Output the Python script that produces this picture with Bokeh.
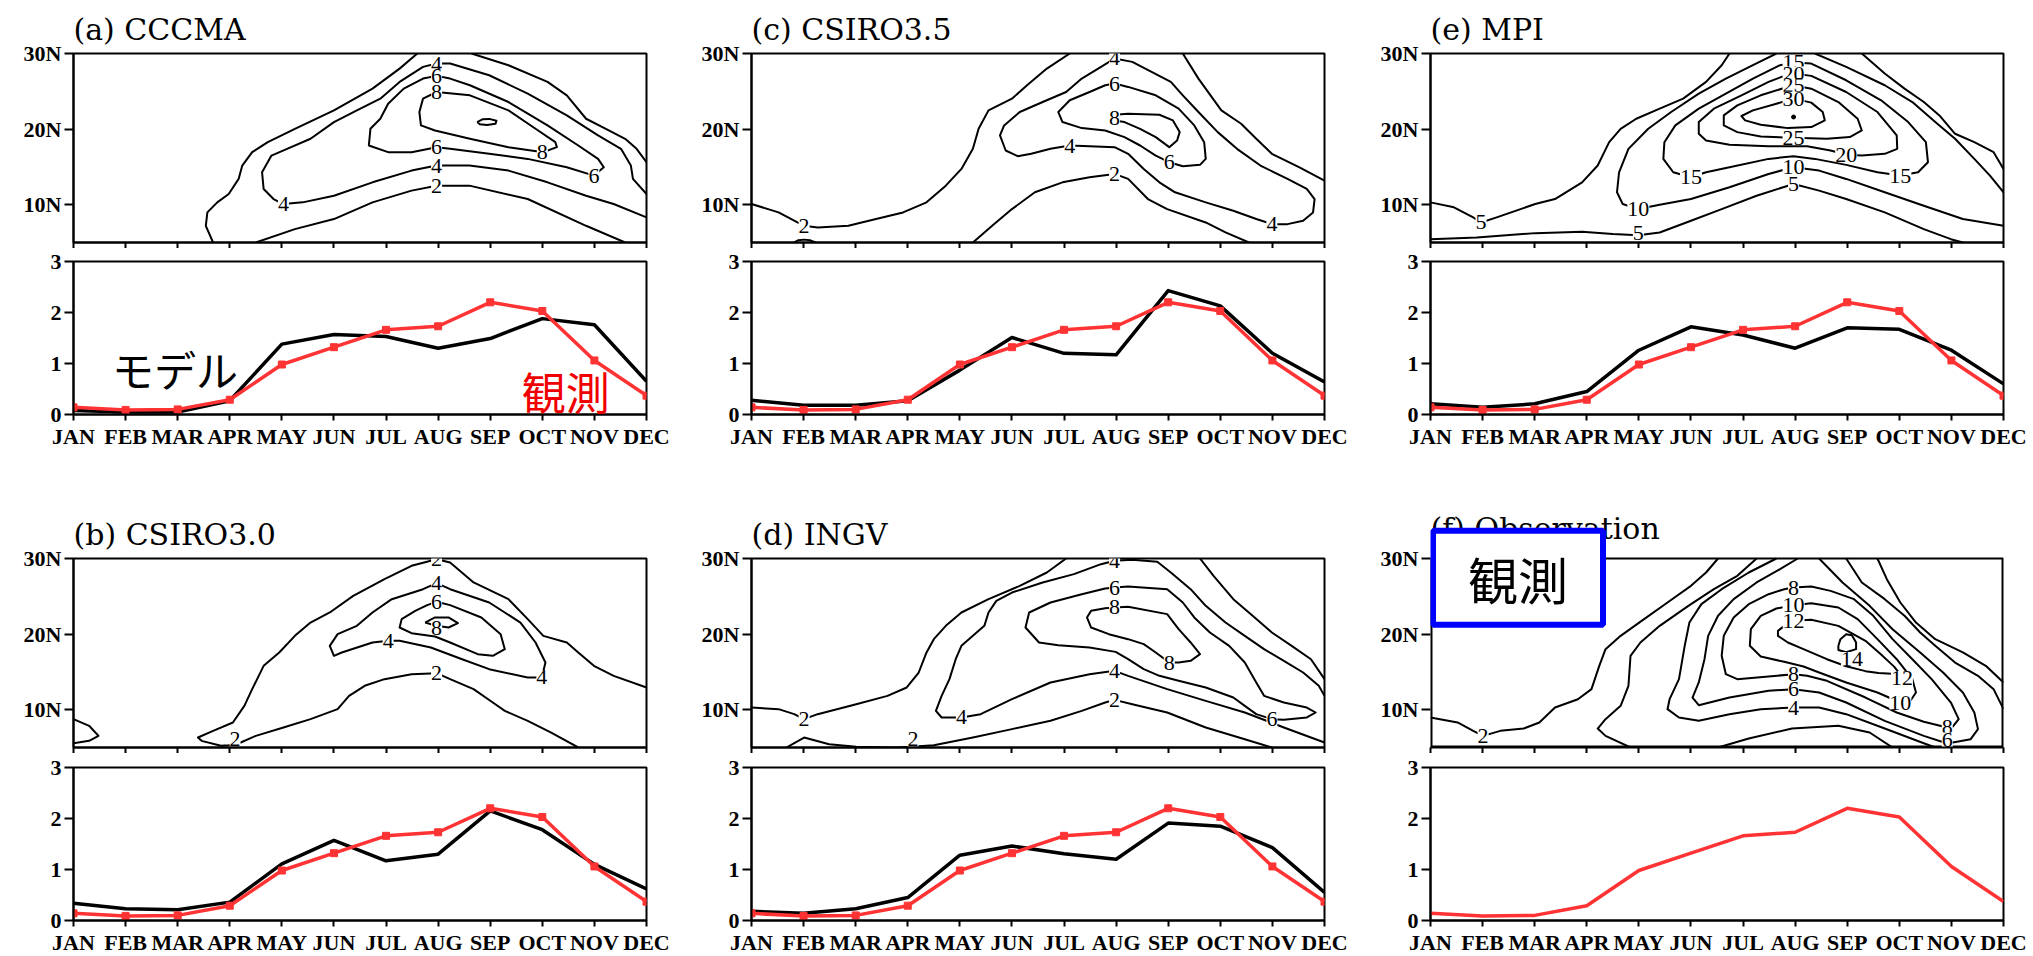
from bokeh.plotting import figure
from bokeh.layouts import row, column
from bokeh.models import FixedTicker, ColumnDataSource, LabelSet, Label
from bokeh.embed import file_html
from bokeh.resources import INLINE

# ---------------- data ----------------
MONTHS = list(range(1, 13))
MONTH_LABELS = ["JAN", "FEB", "MAR", "APR", "MAY", "JUN", "JUL", "AUG", "SEP", "OCT", "NOV", "DEC"]
LAT_MIN, LAT_MAX = 5, 30
LAT_TICKS = [10, 20, 30]
LAT_LABELS = ["10N", "20N", "30N"]
FREQ_TICKS = [0, 1, 2, 3]

OBS = [0.14, 0.09, 0.10, 0.29, 0.98, 1.32, 1.66, 1.73, 2.20, 2.03, 1.06, 0.37]
CCCMA = [0.08, 0.05, 0.05, 0.27, 1.38, 1.57, 1.53, 1.30, 1.49, 1.88, 1.76, 0.65]
CSIRO35 = [0.28, 0.18, 0.18, 0.27, 0.87, 1.51, 1.20, 1.17, 2.43, 2.13, 1.20, 0.64]
MPI = [0.21, 0.14, 0.21, 0.45, 1.26, 1.72, 1.56, 1.30, 1.70, 1.67, 1.26, 0.60]
CSIRO30 = [0.34, 0.23, 0.21, 0.36, 1.11, 1.57, 1.17, 1.30, 2.15, 1.78, 1.10, 0.62]
INGV = [0.18, 0.14, 0.23, 0.45, 1.28, 1.46, 1.31, 1.20, 1.91, 1.85, 1.43, 0.55]

# contour isolines (month, latitude)
# (a) CCCMA
A_2_OUTER_L = [(3.68, 5.0), (3.54, 7.21), (3.57, 8.98), (3.76, 10.31), (3.98, 11.42), (4.17, 13.41), (4.24, 15.18), (4.43, 16.95), (4.73, 18.27), (5.25, 20.04), (6.0, 22.48), (6.74, 25.35), (7.26, 28.0), (7.6, 30.0)]
A_2_OUTER_R = [(8.64, 30.0), (9.35, 28.45), (10.1, 26.24), (10.47, 24.47), (10.84, 21.37), (11.22, 20.04), (11.59, 18.72), (11.81, 17.39), (12.0, 15.62)]
A_2_LOW = [(4.5, 5.0), (5.25, 6.77), (6.0, 8.1), (6.74, 10.31), (7.49, 11.86), (7.97, 12.52), (8.6, 12.52), (9.72, 10.75), (10.84, 7.21), (11.59, 5.0)]
A_4 = [(12.0, 11.42), (11.74, 13.41), (11.70, 15.18), (11.51, 17.39), (11.07, 19.16), (10.47, 21.81), (9.72, 24.69), (8.98, 27.12), (8.23, 28.67), (7.97, 28.67), (7.71, 28.23), (7.26, 26.24), (6.89, 24.03), (6.44, 22.48), (6.0, 20.93), (5.55, 18.72), (5.10, 17.39), (4.80, 16.5), (4.62, 14.29), (4.65, 12.08), (4.84, 10.75), (5.03, 10.09), (5.40, 10.31), (6.0, 11.19), (6.74, 12.96), (7.49, 14.51), (7.97, 15.18), (8.60, 15.18), (9.35, 14.51), (10.1, 12.96), (10.84, 11.19), (11.37, 10.09), (12.0, 8.32)]
A_6 = [(7.97, 17.61), (8.23, 17.39), (8.98, 16.73), (9.72, 16.06), (10.47, 14.96), (10.99, 13.85), (11.18, 14.96), (11.07, 16.06), (10.69, 17.83), (10.1, 20.49), (9.35, 23.58), (8.61, 25.8), (8.23, 26.68), (7.97, 27.04), (7.71, 26.68), (7.34, 25.35), (7.04, 23.36), (6.89, 21.37), (6.70, 20.04), (6.67, 17.83), (7.04, 16.95), (7.49, 16.95), (7.97, 17.61)]
A_8 = [(7.97, 24.91), (8.61, 24.47), (9.35, 22.48), (9.87, 20.04), (10.25, 18.27), (10.28, 17.61), (10.02, 16.95), (9.35, 17.61), (8.61, 18.72), (7.94, 19.82), (7.67, 20.49), (7.64, 22.26), (7.71, 24.03), (7.97, 24.91)]
A_10 = [(8.75, 20.93), (8.85, 21.3), (8.98, 21.35), (9.12, 21.1), (9.1, 20.7), (8.94, 20.55), (8.8, 20.65), (8.75, 20.93)]
A_LABELS = [("4", 7.97, 28.67), ("6", 7.97, 27.04), ("8", 7.97, 24.91), ("6", 7.97, 17.61), ("4", 7.97, 15.18), ("2", 7.97, 12.52), ("8", 10.0, 16.95), ("6", 10.99, 13.85), ("4", 5.03, 10.09)]

# (c) CSIRO3.5
C_2_OUTER_L = [(1.00, 10.09), (1.52, 8.98), (1.82, 7.88), (2.01, 7.21), (2.27, 6.99), (2.86, 7.21), (3.39, 8.10), (3.91, 8.98), (4.36, 10.31), (4.73, 12.52), (5.03, 14.73), (5.25, 17.39), (5.36, 20.04), (5.55, 22.48), (6.00, 24.03), (6.29, 25.80), (6.67, 28.01), (7.11, 30.0)]
C_2_OUTER_R = [(9.28, 30.0), (9.58, 26.68), (10.02, 22.48), (10.40, 20.71), (10.69, 18.72), (10.99, 16.73), (11.51, 14.96), (12.0, 13.19)]
C_2_LOW = [(5.25, 5.0), (5.62, 7.21), (6.0, 9.42), (6.44, 11.64), (6.97, 12.96), (7.49, 13.63), (7.97, 14.07), (8.23, 13.41), (8.61, 10.75), (8.98, 9.42), (9.72, 7.65), (10.10, 6.33), (10.55, 5.0)]
C_2_BUMP = [(1.82, 5.0), (1.9, 5.3), (2.01, 5.38), (2.12, 5.3), (2.23, 5.0)]
C_4 = [(7.97, 29.34), (8.31, 28.89), (8.68, 27.57), (9.05, 26.24), (9.28, 24.47), (9.58, 22.26), (9.95, 19.60), (10.32, 17.39), (10.77, 15.18), (11.29, 13.41), (11.66, 12.08), (11.81, 10.75), (11.78, 8.98), (11.59, 7.88), (11.29, 7.43), (10.99, 7.43), (10.69, 8.10), (10.25, 9.20), (9.72, 10.31), (9.13, 11.64), (8.83, 12.96), (8.53, 14.73), (8.23, 16.73), (7.97, 17.61), (7.49, 17.74), (7.11, 17.83), (6.74, 17.39), (6.37, 16.73), (6.11, 16.42), (5.88, 17.17), (5.77, 19.16), (5.85, 20.49), (6.15, 22.26), (6.59, 23.58), (7.04, 24.91), (7.34, 26.68), (7.71, 28.23), (7.97, 29.34)]
C_6 = [(7.97, 26.02), (8.23, 25.58), (8.76, 24.47), (9.20, 22.70), (9.50, 20.49), (9.69, 18.27), (9.72, 16.06), (9.61, 15.27), (9.28, 15.09), (9.02, 15.62), (8.76, 16.50), (8.46, 17.83), (8.16, 18.94), (7.79, 19.82), (7.34, 20.13), (6.97, 20.93), (6.89, 22.26), (7.11, 23.81), (7.49, 24.91), (7.79, 25.80), (7.97, 26.02)]
C_8 = [(7.97, 21.90), (8.23, 22.04), (8.83, 21.90), (9.09, 21.15), (9.22, 19.60), (9.17, 18.50), (9.02, 17.61), (8.76, 18.94), (8.46, 20.04), (8.16, 20.93), (7.97, 21.15), (7.97, 21.90)]
C_LABELS = [("2", 2.01, 7.21), ("4", 7.97, 29.34), ("6", 7.97, 26.02), ("8", 7.97, 21.5), ("4", 7.11, 17.83), ("6", 9.02, 15.62), ("2", 7.97, 14.07), ("4", 10.99, 7.43)]

# (e) MPI
E_5_OUTER_L = [(1.00, 10.31), (1.45, 9.65), (1.82, 8.32), (1.97, 7.65), (2.27, 8.32), (3.01, 10.09), (3.39, 10.75), (3.91, 12.96), (4.21, 15.18), (4.43, 18.27), (4.65, 20.04), (4.95, 21.37), (5.40, 22.70), (5.85, 24.03), (6.29, 26.24), (6.59, 28.45), (6.74, 30.0)]
E_5_OUTER_R = [(9.28, 30.0), (9.72, 27.35), (10.10, 25.35), (10.47, 23.58), (10.77, 21.81), (11.07, 19.38), (11.44, 18.27), (11.81, 16.95), (12.0, 14.73)]
E_5_LOW = [(1.00, 5.44), (1.89, 5.66), (3.01, 6.24), (3.91, 6.42), (4.50, 6.11), (4.99, 5.96), (5.40, 6.33), (6.00, 7.88), (6.59, 9.42), (7.26, 11.19), (7.97, 12.74), (8.46, 11.86), (8.98, 10.75), (9.72, 8.98), (10.47, 6.77), (10.99, 5.44), (11.22, 5.0)]
E_10_MAIN = [(7.64, 30.0), (7.19, 28.45), (6.67, 26.68), (6.15, 24.69), (5.62, 22.26), (5.18, 20.04), (4.80, 17.39), (4.62, 14.29), (4.58, 11.64), (4.69, 10.09), (4.99, 9.42), (5.40, 10.0), (6.00, 10.75), (6.74, 12.30), (7.49, 14.07), (7.97, 14.96), (8.46, 14.51), (8.98, 13.41), (9.72, 11.64), (10.47, 9.87), (11.22, 8.10), (12.0, 7.21)]
E_10_R = [(8.38, 30.0), (8.98, 28.23), (9.72, 25.80), (10.25, 23.58), (10.69, 20.93), (11.07, 18.72), (11.44, 16.06), (11.74, 13.85), (12.0, 11.64)]
E_15 = [(7.97, 28.81), (8.31, 28.67), (8.98, 26.46), (9.65, 23.81), (10.17, 20.93), (10.51, 18.27), (10.55, 15.62), (10.36, 14.29), (10.02, 13.85), (9.58, 14.29), (8.98, 15.27), (8.38, 16.06), (7.97, 16.42), (7.49, 16.06), (6.74, 14.96), (6.29, 14.29), (6.00, 13.63), (5.66, 14.29), (5.47, 16.06), (5.49, 18.27), (5.70, 20.49), (6.15, 22.70), (6.67, 24.69), (7.19, 26.68), (7.71, 28.45), (7.97, 28.81)]
E_20 = [(7.97, 27.35), (8.31, 27.04), (8.98, 24.91), (9.58, 22.26), (9.95, 19.16), (9.96, 17.39), (9.72, 16.73), (9.28, 16.50), (8.98, 16.60), (8.68, 17.17), (8.23, 17.74), (7.49, 17.74), (6.74, 17.92), (6.29, 18.50), (6.15, 19.38), (6.15, 20.93), (6.44, 22.70), (6.97, 24.47), (7.49, 26.24), (7.79, 27.04), (7.97, 27.35)]
E_25 = [(7.97, 25.80), (8.31, 25.35), (8.83, 23.58), (9.20, 21.37), (9.28, 19.82), (9.05, 18.94), (8.61, 18.72), (7.97, 18.85), (7.34, 19.03), (6.89, 19.60), (6.63, 20.49), (6.63, 21.81), (6.89, 23.14), (7.34, 24.47), (7.79, 25.44), (7.97, 25.80)]
E_30 = [(7.97, 24.03), (8.31, 23.50), (8.53, 22.26), (8.57, 21.15), (8.31, 20.27), (7.86, 20.13), (7.34, 20.58), (7.04, 21.15), (6.97, 21.73), (7.19, 22.48), (7.64, 23.36), (7.97, 24.03)]
E_35_DOT = [(7.97, 21.6)]
E_LABELS = [("15", 7.97, 28.81), ("20", 7.97, 27.35), ("25", 7.97, 25.80), ("30", 7.97, 24.03), ("5", 1.97, 7.65), ("10", 4.99, 9.42), ("5", 4.99, 6.3), ("15", 6.00, 13.63), ("10", 7.97, 14.96), ("5", 7.97, 12.74), ("25", 7.97, 18.85), ("20", 8.98, 16.60), ("15", 10.02, 13.85)]

# (b) CSIRO3.0
B_2_MAIN = [(12.0, 12.94), (11.37, 14.48), (10.99, 15.80), (10.69, 17.57), (10.47, 18.89), (10.02, 19.77), (9.72, 21.98), (9.35, 24.62), (8.68, 26.83), (8.23, 29.47), (7.97, 29.91), (7.49, 29.03), (6.97, 27.27), (6.37, 25.06), (5.92, 22.86), (5.55, 21.53), (5.25, 19.77), (4.95, 17.57), (4.65, 15.80), (4.43, 12.72), (4.28, 10.51), (4.06, 8.31), (3.68, 7.20), (3.39, 6.32), (3.46, 5.88), (3.83, 5.22), (3.98, 5.31), (4.21, 5.66), (4.50, 6.54), (5.03, 7.65), (5.55, 8.75), (6.07, 10.07), (6.29, 11.83), (6.59, 13.16), (6.97, 14.04), (7.49, 14.70), (7.97, 14.83), (8.23, 14.04), (8.68, 12.72), (9.05, 10.95), (9.28, 9.85), (9.72, 8.53), (10.17, 6.98), (10.69, 5.0)]
B_2_LEFT = [(1.0, 8.75), (1.30, 7.87), (1.48, 6.54), (1.30, 5.88), (1.0, 5.57)]
B_4 = [(7.97, 26.74), (8.23, 25.94), (8.98, 24.18), (9.58, 21.53), (9.87, 18.89), (10.06, 16.24), (9.99, 14.26), (9.72, 14.26), (8.98, 15.36), (8.46, 16.68), (7.86, 18.23), (7.26, 19.11), (7.04, 19.11), (6.74, 18.89), (6.15, 17.57), (6.00, 17.13), (5.92, 18.45), (6.07, 19.99), (6.44, 21.09), (6.74, 22.86), (7.11, 24.62), (7.71, 25.94), (7.97, 26.74)]
B_6 = [(7.97, 24.27), (8.23, 23.83), (8.83, 22.20), (9.20, 19.99), (9.28, 18.01), (9.05, 17.13), (8.76, 17.35), (8.23, 18.89), (7.94, 19.68), (7.49, 20.12), (7.26, 20.87), (7.30, 21.98), (7.56, 23.08), (7.79, 23.83), (7.97, 24.27)]
B_8 = [(7.75, 21.53), (7.94, 22.20), (8.20, 22.20), (8.38, 21.45), (8.20, 20.87), (7.97, 21.09), (7.75, 21.53)]
B_LABELS = [("2", 7.97, 29.91), ("4", 7.97, 26.74), ("6", 7.97, 24.27), ("8", 7.97, 20.87), ("4", 7.04, 19.11), ("2", 7.97, 14.83), ("4", 9.99, 14.26), ("2", 4.1, 6.15)]

# (d) INGV
D_2_OUTER_L = [(1.00, 10.29), (1.52, 10.07), (1.82, 9.41), (2.01, 8.75), (2.27, 9.41), (3.01, 10.73), (3.61, 11.83), (3.98, 12.94), (4.21, 14.92), (4.36, 17.57), (4.50, 19.33), (4.73, 21.09), (5.03, 22.86), (5.55, 24.62), (6.15, 26.38), (6.67, 28.15), (7.04, 30.0)]
D_2_OUTER_R = [(9.61, 30.0), (9.87, 27.71), (10.25, 24.62), (10.62, 22.42), (10.99, 20.21), (11.37, 18.45), (11.74, 16.68), (12.0, 14.04)]
D_2_LOW = [(1.67, 5.0), (2.01, 6.32), (2.49, 5.44), (3.01, 5.09), (3.76, 5.0), (4.06, 5.09), (4.50, 5.31), (5.25, 6.32), (6.0, 7.43), (6.74, 8.53), (7.34, 9.85), (7.79, 10.95), (7.97, 11.30), (8.31, 10.73), (8.98, 9.63), (9.72, 7.65), (10.47, 6.10), (10.99, 5.0)]
D_4 = [(12.0, 11.83), (11.89, 13.16), (11.59, 14.92), (11.22, 16.46), (10.84, 18.01), (10.47, 19.77), (10.10, 21.53), (9.72, 23.74), (9.43, 25.94), (9.05, 28.15), (8.79, 29.56), (8.31, 29.82), (7.97, 29.69), (7.71, 29.25), (7.19, 27.93), (6.59, 26.83), (6.0, 25.50), (5.70, 24.40), (5.55, 22.86), (5.47, 21.09), (5.25, 19.77), (5.03, 18.45), (4.92, 16.68), (4.80, 14.04), (4.65, 11.83), (4.54, 9.85), (4.65, 8.97), (5.03, 8.97), (5.40, 9.41), (6.0, 11.39), (6.74, 13.60), (7.49, 14.70), (7.97, 15.14), (8.23, 14.48), (8.98, 12.72), (9.72, 11.17), (10.47, 9.63), (11.22, 7.65), (12.0, 5.66)]
D_6 = [(7.97, 26.16), (8.23, 26.30), (8.98, 25.94), (9.28, 24.18), (9.50, 22.20), (9.80, 20.21), (10.17, 18.45), (10.47, 16.24), (10.69, 13.60), (10.84, 11.83), (11.22, 10.95), (11.66, 10.29), (11.83, 9.63), (11.66, 8.97), (11.22, 8.66), (10.99, 8.75), (10.69, 9.41), (10.47, 10.51), (10.25, 11.61), (9.72, 12.94), (9.20, 13.82), (8.83, 14.48), (8.53, 15.36), (8.23, 16.68), (7.99, 17.65), (7.49, 18.23), (6.89, 18.54), (6.52, 18.89), (6.26, 20.87), (6.33, 22.86), (6.74, 24.18), (7.34, 25.28), (7.79, 26.03), (7.97, 26.16)]
D_8 = [(7.97, 23.52), (8.23, 23.61), (8.98, 22.64), (9.20, 20.65), (9.43, 18.89), (9.61, 17.35), (9.43, 16.46), (9.20, 16.24), (9.02, 16.24), (8.76, 17.57), (8.53, 18.67), (8.23, 19.33), (7.86, 19.99), (7.52, 20.87), (7.44, 22.20), (7.52, 23.08), (7.79, 23.43), (7.97, 23.52)]
D_LABELS = [("2", 2.01, 8.75), ("4", 5.03, 8.97), ("2", 4.1, 6.1), ("4", 7.97, 29.69), ("6", 7.97, 26.16), ("8", 7.97, 23.52), ("4", 7.97, 15.14), ("2", 7.97, 11.30), ("8", 9.02, 16.24), ("6", 10.99, 8.75)]

# (f) Observation
F_2_OUTER_L = [(1.00, 8.97), (1.52, 8.31), (1.82, 7.20), (2.01, 6.54), (2.34, 7.20), (2.79, 7.51), (3.09, 8.31), (3.39, 10.29), (3.83, 11.39), (4.09, 12.72), (4.24, 15.80), (4.36, 18.01), (4.65, 19.77), (5.10, 21.98), (5.55, 24.18), (6.0, 26.38), (6.29, 28.15), (6.52, 30.0)]
F_2_OUTER_R = [(9.58, 30.0), (9.76, 27.27), (10.02, 24.18), (10.32, 21.53), (10.69, 19.33), (11.22, 17.57), (11.66, 15.80), (12.0, 13.60)]
F_2_A = [(7.26, 30.0), (6.89, 27.71), (6.44, 25.94), (5.95, 23.74), (5.40, 21.09), (5.03, 18.89), (4.84, 17.13), (4.80, 13.16), (4.65, 10.51), (4.36, 8.75), (4.21, 7.51), (4.36, 6.54), (4.84, 5.0)]
F_2_BUMP = [(6.52, 5.0), (7.11, 6.19), (7.94, 7.51), (8.83, 7.87), (9.43, 6.98), (9.87, 5.0)]
F_4_L = [(7.64, 30.0), (7.11, 28.15), (6.59, 25.94), (6.20, 23.96), (5.97, 21.53), (5.88, 18.45), (5.77, 14.04), (5.59, 11.39), (5.55, 10.07), (5.77, 8.97), (6.15, 8.53), (6.74, 9.41), (7.34, 10.07), (7.97, 10.29), (8.46, 10.29), (8.98, 9.41), (9.72, 7.51), (10.47, 5.57), (10.69, 5.0)]
F_4_R = [(8.98, 30.0), (9.28, 26.83), (9.72, 24.62), (10.10, 22.42), (10.40, 20.21), (10.69, 18.45), (11.07, 16.24), (11.51, 14.48), (11.81, 12.72), (12.0, 10.07)]
F_6 = [(8.05, 30.0), (7.71, 28.59), (7.26, 26.83), (6.82, 24.62), (6.52, 22.42), (6.33, 19.77), (6.26, 16.68), (6.15, 13.60), (6.03, 11.61), (6.15, 10.60), (6.74, 11.61), (7.49, 12.50), (7.97, 12.72), (8.46, 12.28), (8.98, 10.95), (9.72, 8.53), (10.47, 6.54), (10.92, 5.53), (11.37, 6.10), (11.51, 7.43), (11.44, 9.63), (11.22, 12.28), (10.84, 14.92), (10.40, 17.57), (9.87, 20.65), (9.43, 23.74), (8.91, 26.83), (8.46, 30.0)]
F_8 = [(7.97, 26.16), (8.31, 26.30), (8.68, 25.72), (9.13, 24.62), (9.50, 22.42), (9.87, 19.33), (10.25, 16.68), (10.62, 14.04), (10.99, 10.95), (11.14, 8.75), (11.03, 7.78), (10.92, 7.65), (10.47, 8.40), (9.95, 9.63), (9.35, 11.61), (8.61, 13.82), (8.23, 14.48), (7.97, 14.70), (7.49, 14.39), (6.89, 14.04), (6.67, 14.70), (6.59, 17.13), (6.63, 19.77), (6.82, 22.20), (7.11, 23.96), (7.49, 25.28), (7.79, 25.94), (7.97, 26.16)]
F_10 = [(7.97, 23.83), (8.31, 24.09), (8.83, 23.52), (9.20, 21.98), (9.58, 19.33), (9.95, 16.68), (10.25, 14.04), (10.32, 12.28), (10.19, 10.95), (10.02, 10.95), (9.58, 12.28), (8.98, 13.60), (8.46, 14.92), (8.16, 15.71), (7.79, 16.33), (7.34, 17.04), (7.13, 18.45), (7.15, 20.65), (7.34, 22.42), (7.64, 23.39), (7.97, 23.83)]
F_12 = [(7.97, 21.75), (8.31, 21.89), (8.83, 21.09), (9.35, 19.11), (9.65, 17.3), (9.9, 15.7), (9.98, 15.0), (9.85, 14.75), (9.6, 14.85), (9.35, 15.1), (8.98, 15.75), (8.61, 16.68), (8.16, 18.01), (7.86, 18.89), (7.67, 19.77), (7.67, 20.43), (7.79, 21.09), (7.97, 21.75)]
F_14 = [(8.83, 18.45), (8.87, 19.33), (8.98, 19.99), (9.09, 19.86), (9.17, 18.89), (9.17, 18.01), (8.98, 17.6), (8.83, 17.9), (8.83, 18.45)]
F_LABELS = [("2", 2.01, 6.54), ("4", 7.97, 10.29), ("6", 7.97, 12.72), ("8", 7.97, 14.70), ("8", 7.97, 26.16), ("10", 7.97, 23.83), ("12", 7.97, 21.75), ("14", 9.09, 16.7), ("12", 10.05, 14.2), ("10", 10.02, 10.95), ("8", 10.92, 7.65), ("6", 10.92, 6.05)]

PANELS = [
    ("(a) CCCMA", [A_2_OUTER_L, A_2_OUTER_R, A_2_LOW, A_4, A_6, A_8, A_10], A_LABELS, CCCMA, []),
    ("(c) CSIRO3.5", [C_2_OUTER_L, C_2_OUTER_R, C_2_LOW, C_2_BUMP, C_4, C_6, C_8], C_LABELS, CSIRO35, []),
    ("(e) MPI", [E_5_OUTER_L, E_5_OUTER_R, E_5_LOW, E_10_MAIN, E_10_R, E_15, E_20, E_25, E_30], E_LABELS, MPI, E_35_DOT),
    ("(b) CSIRO3.0", [B_2_MAIN, B_2_LEFT, B_4, B_6, B_8], B_LABELS, CSIRO30, []),
    ("(d) INGV", [D_2_OUTER_L, D_2_OUTER_R, D_2_LOW, D_4, D_6, D_8], D_LABELS, INGV, []),
    ("(f) Observation", [F_2_OUTER_L, F_2_OUTER_R, F_2_A, F_2_BUMP, F_4_L, F_4_R, F_6, F_8, F_10, F_12, F_14], F_LABELS, None, []),
]
OBS_NOTE = "観測"
MODEL_NOTE = "モデル"

# ---------------- style ----------------
RED = "#ff3333"
TICK_FONT = "Liberation Serif"
TITLE_FONT = "DejaVu Serif"
CJK_FONT = "Noto Sans CJK JP"
FRAME_W, CONT_H, LINE_H = 573, 189, 153
PX_PER_DEG = CONT_H / (LAT_MAX - LAT_MIN)
RIGHTS = [32, 33, 30]
ROW_TOP = [53, 104]
CONT_BOTTOM = 6
LINE_TOP = [13, 14]
LINE_BOTTOM = [40, 36]
EXTRA_TOP = 56  # frame extension (px) used by the observation panel so its box can overlap the title


def style(p, tick_out):
    p.grid.visible = False
    p.outline_line_color = "black"
    p.outline_line_width = 2
    p.background_fill_color = "white"
    p.border_fill_color = "white"
    for ax in p.axis:
        ax.axis_line_width = 2
        ax.major_tick_line_width = 2
        ax.major_tick_in = 0
        ax.major_tick_out = tick_out
        ax.minor_tick_line_color = None
        ax.major_label_text_font = TICK_FONT
        ax.major_label_text_font_size = "22px"
        ax.major_label_text_font_style = "bold"
        ax.major_label_text_color = "black"
        ax.major_label_standoff = 3


def contour_fig(title, paths, labels, dots, top, right, extended=False):
    extra = EXTRA_TOP if extended else 0
    y_top = LAT_MAX + extra / PX_PER_DEG
    kw = {} if extended else {"title": title}
    p = figure(frame_width=FRAME_W, frame_height=CONT_H + extra, x_range=(MONTHS[0], MONTHS[-1]),
               y_range=(LAT_MIN, y_top),
               min_border_left=73, min_border_right=right, min_border_top=top - extra,
               min_border_bottom=CONT_BOTTOM,
               toolbar_location=None, output_backend="svg", **kw)
    if not extended:
        p.title.text_font = TITLE_FONT
        p.title.text_font_size = "30px"
        p.title.text_font_style = "normal"
        p.title.text_color = "black"
        p.title.align = "left"
        p.title.standoff = 13
    style(p, 9)
    p.xaxis.ticker = FixedTicker(ticks=MONTHS)
    p.xaxis.major_tick_out = CONT_BOTTOM
    p.xaxis.major_label_text_font_size = "0px"
    p.xaxis.major_label_text_color = None
    p.xaxis.major_label_standoff = 0
    p.yaxis.ticker = FixedTicker(ticks=LAT_TICKS)
    p.yaxis.major_label_overrides = {t: l for t, l in zip(LAT_TICKS, LAT_LABELS)}
    if extended:
        # draw the data box ourselves: the frame is taller than the data area
        p.outline_line_color = None
        p.yaxis.axis_line_color = None
        p.multi_line([[MONTHS[0], MONTHS[0], MONTHS[-1], MONTHS[-1]]],
                     [[LAT_MAX, LAT_MIN, LAT_MIN, LAT_MAX]], line_color="black", line_width=4)
        p.multi_line([[MONTHS[0], MONTHS[-1]]], [[LAT_MAX, LAT_MAX]], line_color="black", line_width=2)
        p.add_layout(Label(x=MONTHS[0], y=LAT_MAX + 30 / PX_PER_DEG, text=title, text_align="left",
                           text_baseline="middle", text_font=TITLE_FONT, text_font_size="30px",
                           text_color="black"))
    xs = [[pt[0] for pt in path] for path in paths]
    ys = [[pt[1] for pt in path] for path in paths]
    p.multi_line(xs, ys, line_color="black", line_width=2, line_join="round")
    if dots:
        p.scatter([d[0] for d in dots], [d[1] for d in dots], size=4, color="black")
    src = ColumnDataSource(dict(t=[l[0] for l in labels], x=[l[1] for l in labels], y=[l[2] for l in labels]))
    p.add_layout(LabelSet(x="x", y="y", text="t", source=src, text_align="center", text_baseline="middle",
                          text_font=TICK_FONT, text_font_size="22px", text_color="black",
                          background_fill_color="white"))
    return p


def line_fig(model, top, bottom, right, markers):
    p = figure(frame_width=FRAME_W, frame_height=LINE_H, x_range=(MONTHS[0], MONTHS[-1]), y_range=(0, 3),
               min_border_left=73, min_border_right=right, min_border_top=top, min_border_bottom=bottom,
               toolbar_location=None, output_backend="svg")
    style(p, 6)
    p.xaxis.ticker = FixedTicker(ticks=MONTHS)
    p.xaxis.major_label_overrides = {m: l for m, l in zip(MONTHS, MONTH_LABELS)}
    p.yaxis.ticker = FixedTicker(ticks=FREQ_TICKS)
    p.yaxis.major_tick_out = 9
    if model is not None:
        p.line(MONTHS, model, line_color="black", line_width=3.5, line_join="round")
    p.line(MONTHS, OBS, line_color=RED, line_width=3.5, line_join="round")
    if markers:
        p.scatter(MONTHS, OBS, marker="square", size=7, color=RED)
    return p


rows = []
for r in range(2):
    cols = []
    for c in range(3):
        title, paths, labels, model, dots = PANELS[r * 3 + c]
        is_obs = model is None
        pc = contour_fig(title, paths, labels, dots, ROW_TOP[r], RIGHTS[c], extended=is_obs)
        pl = line_fig(model, LINE_TOP[r], LINE_BOTTOM[r], RIGHTS[c], not is_obs)
        if r == 0 and c == 0:
            pl.add_layout(Label(x=2.95, y=0.9, text=MODEL_NOTE, text_align="center", text_baseline="middle",
                                text_font=CJK_FONT, text_font_size="42px", text_color="black"))
            pl.add_layout(Label(x=10.45, y=0.47, text=OBS_NOTE, text_align="center", text_baseline="middle",
                                text_font=CJK_FONT, text_font_size="44px", text_color="#f00000"))
        if is_obs:
            pc.add_layout(Label(x=2.68, y=27.45, text=OBS_NOTE, text_align="center", text_baseline="middle",
                                text_font=CJK_FONT, text_font_size="50px", text_color="black",
                                background_fill_color="white", border_line_color="#0000ff",
                                border_line_width=6, padding=(35, 11)))
        cols.append(column(pc, pl, spacing=0))
    rows.append(row(*cols, spacing=0))

layout = column(*rows, spacing=0)
open("out.html", "w").write(file_html(layout, INLINE))
